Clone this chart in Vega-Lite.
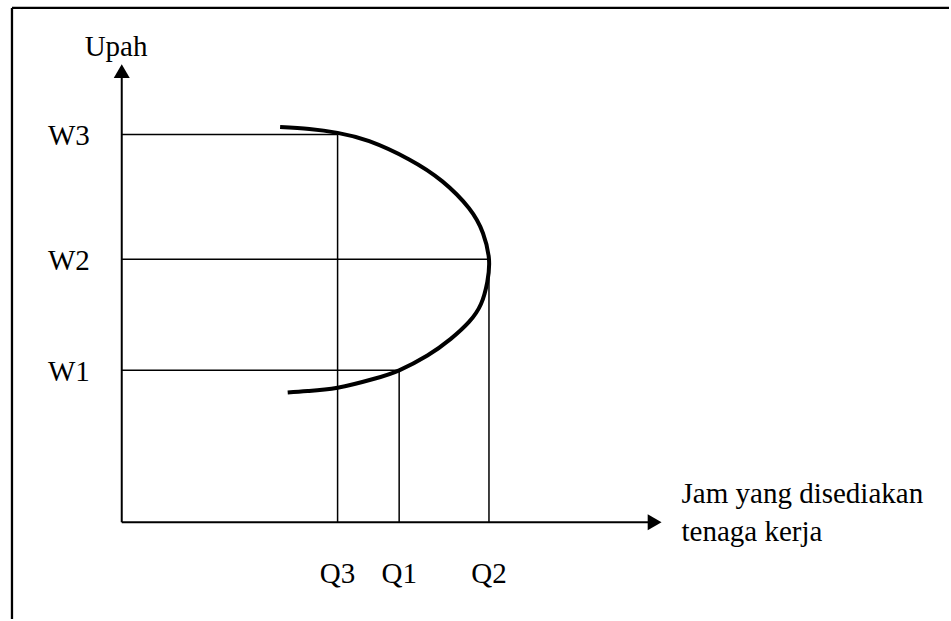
{
  "$schema": "https://vega.github.io/schema/vega-lite/v6.json",
  "width": 951,
  "height": 621,
  "autosize": {"type": "fit", "contains": "padding"},
  "padding": 0,
  "background": "white",
  "config": {"view": {"stroke": null}},
  "datasets": {
    "supply": [
      {"order": 1, "hours": 15.87, "wage": 39.65},
      {"order": 2, "hours": 18.8, "wage": 39.45},
      {"order": 3, "hours": 21.63, "wage": 39.07},
      {"order": 4, "hours": 24.8, "wage": 38.23},
      {"order": 5, "hours": 28.8, "wage": 36.4},
      {"order": 6, "hours": 32.13, "wage": 34.2},
      {"order": 7, "hours": 34.8, "wage": 31.5},
      {"order": 8, "hours": 36.2, "wage": 29.0},
      {"order": 9, "hours": 36.8, "wage": 26.4},
      {"order": 10, "hours": 36.63, "wage": 24.1},
      {"order": 11, "hours": 36.0, "wage": 21.9},
      {"order": 12, "hours": 34.8, "wage": 20.1},
      {"order": 13, "hours": 32.97, "wage": 18.4},
      {"order": 14, "hours": 30.63, "wage": 16.73},
      {"order": 15, "hours": 27.8, "wage": 15.25},
      {"order": 16, "hours": 25.3, "wage": 14.4},
      {"order": 17, "hours": 21.63, "wage": 13.5},
      {"order": 18, "hours": 18.63, "wage": 13.17},
      {"order": 19, "hours": 16.63, "wage": 13.02}
    ],
    "levels": [
      {"wLabel": "W3", "wage": 38.9, "qLabel": "Q3", "hours": 21.63},
      {"wLabel": "W2", "wage": 26.4, "qLabel": "Q2", "hours": 36.8},
      {"wLabel": "W1", "wage": 15.25, "qLabel": "Q1", "hours": 27.8}
    ],
    "frame": [{"left": -11.0, "right": 82.9, "top": 51.6, "bottom": -9.7}],
    "axes": [{"origin": 0, "xEnd": 53.5, "yEnd": 45.0, "xArrow": 53.4, "yArrow": 45.27}],
    "titles": [
      {"label": "Upah", "hours": -0.57, "wage": 46.8},
      {"label": "Jam yang disediakan\ntenaga kerja", "hours": 56.1, "wage": 1.9}
    ]
  },
  "layer": [
    {
      "data": {"name": "frame"},
      "mark": {"type": "rule", "color": "black", "strokeWidth": 2.3},
      "encoding": {
        "x": {"field": "left", "type": "quantitative", "scale": {"domain": [-12.2, 82.9], "nice": false, "zero": false}, "axis": null},
        "x2": {"field": "right"},
        "y": {"field": "top", "type": "quantitative", "scale": {"domain": [-9.7, 52.4], "nice": false, "zero": false}, "axis": null}
      }
    },
    {
      "data": {"name": "frame"},
      "mark": {"type": "rule", "color": "black", "strokeWidth": 2.3},
      "encoding": {
        "x": {"field": "left", "type": "quantitative"},
        "y": {"field": "top", "type": "quantitative"},
        "y2": {"field": "bottom"}
      }
    },
    {
      "data": {"name": "axes"},
      "mark": {"type": "rule", "color": "black", "strokeWidth": 2},
      "encoding": {
        "x": {"field": "origin", "type": "quantitative"},
        "x2": {"field": "xEnd"},
        "y": {"field": "origin", "type": "quantitative"}
      }
    },
    {
      "data": {"name": "axes"},
      "mark": {"type": "rule", "color": "black", "strokeWidth": 2},
      "encoding": {
        "x": {"field": "origin", "type": "quantitative"},
        "y": {"field": "origin", "type": "quantitative"},
        "y2": {"field": "yEnd"}
      }
    },
    {
      "data": {"name": "axes"},
      "mark": {"type": "point", "shape": "triangle-up", "filled": true, "color": "black", "opacity": 1, "size": 256},
      "encoding": {
        "x": {"field": "origin", "type": "quantitative"},
        "y": {"field": "yArrow", "type": "quantitative"}
      }
    },
    {
      "data": {"name": "axes"},
      "mark": {"type": "point", "shape": "triangle-right", "filled": true, "color": "black", "opacity": 1, "size": 256},
      "encoding": {
        "x": {"field": "xArrow", "type": "quantitative"},
        "y": {"field": "origin", "type": "quantitative"}
      }
    },
    {
      "data": {"name": "levels"},
      "transform": [{"calculate": "0", "as": "start"}],
      "mark": {"type": "rule", "color": "black", "strokeWidth": 1.5},
      "encoding": {
        "x": {"field": "start", "type": "quantitative"},
        "x2": {"field": "hours"},
        "y": {"field": "wage", "type": "quantitative"}
      }
    },
    {
      "data": {"name": "levels"},
      "transform": [{"calculate": "0", "as": "start"}],
      "mark": {"type": "rule", "color": "black", "strokeWidth": 1.5},
      "encoding": {
        "x": {"field": "hours", "type": "quantitative"},
        "y": {"field": "start", "type": "quantitative"},
        "y2": {"field": "wage"}
      }
    },
    {
      "data": {"name": "supply"},
      "mark": {"type": "line", "color": "black", "strokeWidth": 4, "interpolate": "natural", "strokeCap": "butt"},
      "encoding": {
        "x": {"field": "hours", "type": "quantitative"},
        "y": {"field": "wage", "type": "quantitative"},
        "order": {"field": "order", "type": "quantitative"}
      }
    },
    {
      "data": {"name": "levels"},
      "transform": [{"calculate": "-3.2", "as": "labelX"}],
      "mark": {"type": "text", "font": "Liberation Serif", "fontSize": 29, "color": "black", "align": "right", "baseline": "middle", "dy": 1.5},
      "encoding": {
        "x": {"field": "labelX", "type": "quantitative"},
        "y": {"field": "wage", "type": "quantitative"},
        "text": {"field": "wLabel"}
      }
    },
    {
      "data": {"name": "levels"},
      "transform": [{"calculate": "-6.1", "as": "labelY"}],
      "mark": {"type": "text", "font": "Liberation Serif", "fontSize": 29, "color": "black", "align": "center", "baseline": "alphabetic"},
      "encoding": {
        "x": {"field": "hours", "type": "quantitative"},
        "y": {"field": "labelY", "type": "quantitative"},
        "text": {"field": "qLabel"}
      }
    },
    {
      "data": {"name": "titles"},
      "transform": [{"filter": "datum.label === 'Upah'"}],
      "mark": {"type": "text", "font": "Liberation Serif", "fontSize": 29, "color": "black", "align": "center", "baseline": "alphabetic"},
      "encoding": {
        "x": {"field": "hours", "type": "quantitative"},
        "y": {"field": "wage", "type": "quantitative"},
        "text": {"field": "label"}
      }
    },
    {
      "data": {"name": "titles"},
      "transform": [{"filter": "datum.label !== 'Upah'"}],
      "mark": {"type": "text", "font": "Liberation Serif", "fontSize": 29, "color": "black", "align": "left", "baseline": "alphabetic", "lineBreak": "\n", "lineHeight": 38},
      "encoding": {
        "x": {"field": "hours", "type": "quantitative"},
        "y": {"field": "wage", "type": "quantitative"},
        "text": {"field": "label"}
      }
    }
  ]
}
